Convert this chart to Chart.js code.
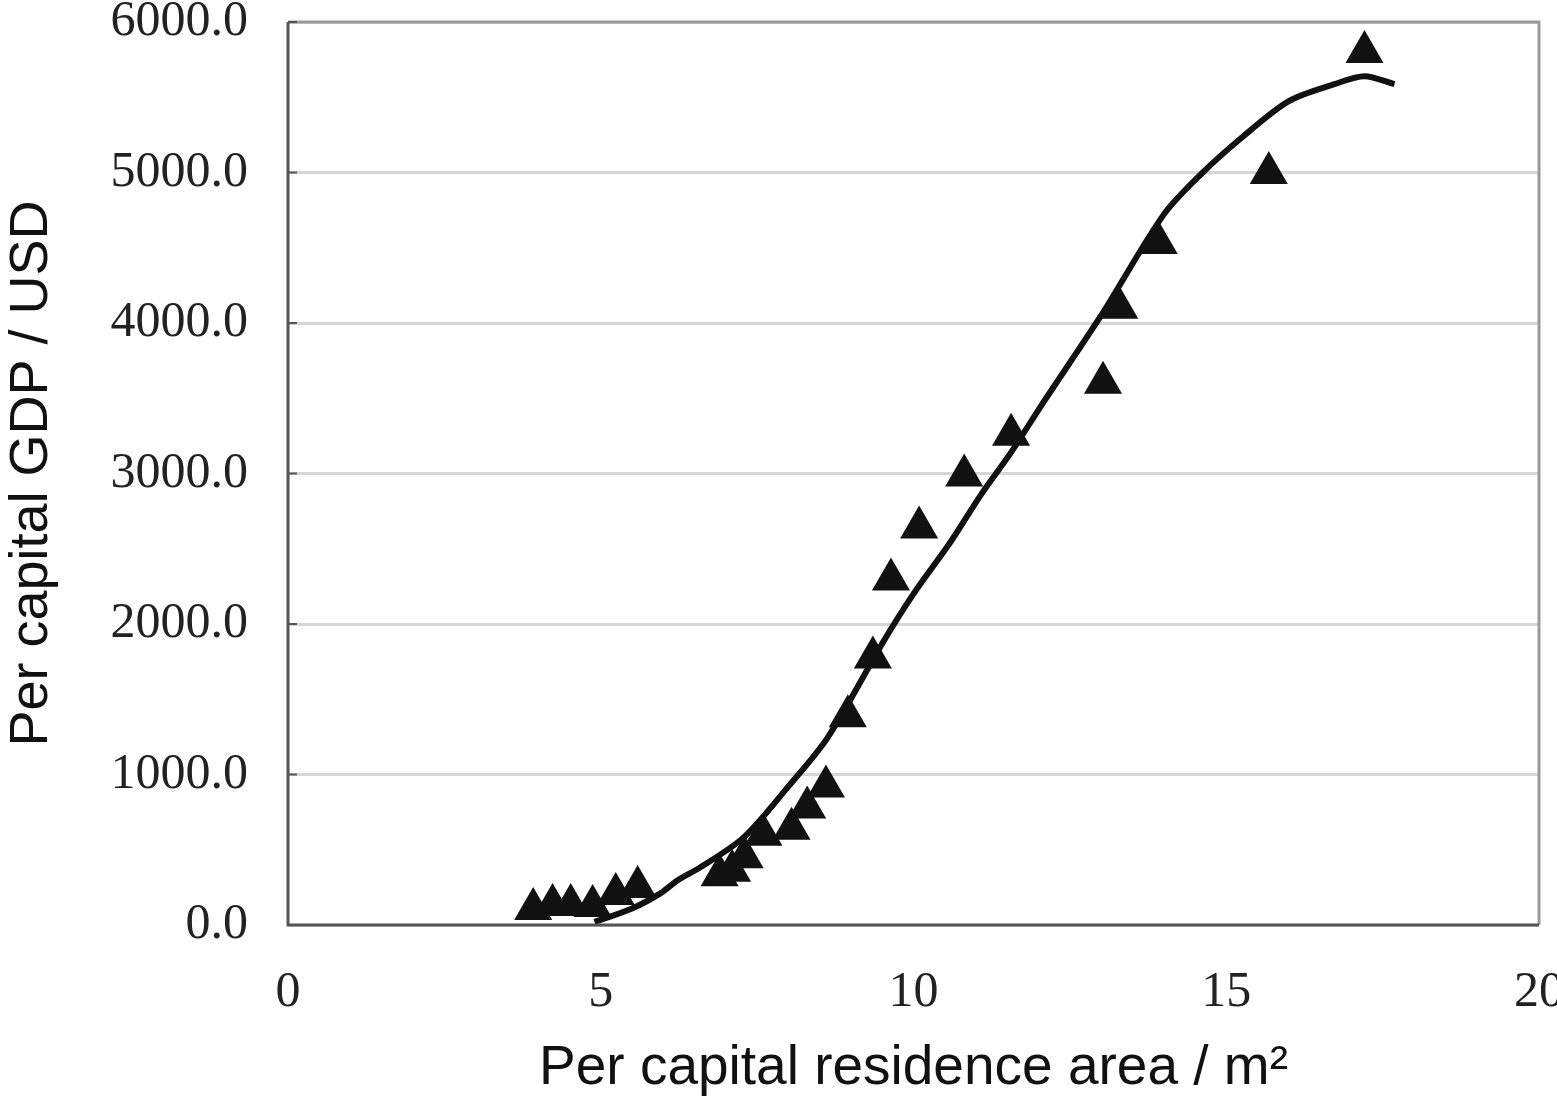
<!DOCTYPE html>
<html>
<head>
<meta charset="utf-8">
<script src="https://cdn.jsdelivr.net/npm/chart.js@4.4.0/dist/chart.umd.min.js"></script>
<style>
  html, body { margin: 0; padding: 0; background: #fff; overflow: hidden; }
  #wrap { width: 1561px; height: 1102px; }
</style>
</head>
<body>
<div id="wrap"><canvas id="grafica"></canvas></div>
<script>
// Puntos observados (triángulos)
const areaObs = [3.92, 4.23, 4.52, 4.87, 5.24, 5.59, 6.9, 7.1, 7.3, 7.6, 8.05, 8.3, 8.6,
                 8.95, 9.35, 9.64, 10.09, 10.81, 11.56, 13.03, 13.29, 13.92, 15.68, 17.21];
const gdpObs = [106, 133, 133, 126, 206, 252, 330, 360, 450, 600, 640, 780, 920,
                1387, 1778, 2296, 2641, 2986, 3258, 3603, 4101, 4532, 4997, 5800];

// Curva ajustada
const areaFit = [4.9, 5.5, 5.96, 6.23, 6.6, 7.29, 7.99, 8.63, 9.53, 10.0, 10.6, 11.08,
                 11.56, 12.04, 13.0, 14.0, 14.6, 15.24, 16.0, 16.73, 17.21, 17.69];
const gdpFit = [20, 110, 212, 298, 385, 584, 916, 1247, 1891, 2200, 2550, 2860,
                3140, 3450, 4050, 4720, 4990, 5229, 5474, 5587, 5640, 5587];

// Marcas de los ejes
const xTicks = [0, 5, 10, 15, 20];
const yTicks = [0, 1000, 2000, 3000, 4000, 5000, 6000];

const serif = '"Liberation Serif", "Times New Roman", serif';
const sans = '"Liberation Sans", Arial, sans-serif';

// Marco del área de trazado y marcas interiores del eje Y
const marco = {
    id: 'marco',
    afterDraw(chart) {
        const { ctx, chartArea: a, scales } = chart;
        ctx.save();
        ctx.lineWidth = 3;
        ctx.strokeStyle = '#9a9a9a';
        ctx.beginPath();
        ctx.moveTo(a.left, a.top);
        ctx.lineTo(a.right, a.top);
        ctx.lineTo(a.right, a.bottom);
        ctx.stroke();
        ctx.strokeStyle = '#555';
        ctx.beginPath();
        ctx.moveTo(a.left, a.top);
        ctx.lineTo(a.left, a.bottom);
        ctx.lineTo(a.right, a.bottom);
        ctx.stroke();
        ctx.lineWidth = 2;
        yTicks.forEach(v => {
            const y = scales.y.getPixelForValue(v);
            ctx.beginPath();
            ctx.moveTo(a.left, y);
            ctx.lineTo(a.left + 9, y);
            ctx.stroke();
        });
        ctx.restore();
    }
};

const ctx = document.getElementById('grafica').getContext('2d');
new Chart(ctx, {
    data: {
        datasets: [
            {
                type: 'line',
                label: 'Ajuste',
                data: areaFit.map((x, i) => ({ x: x, y: gdpFit[i] })),
                borderColor: '#111',
                borderWidth: 6,
                pointRadius: 0,
                tension: 0.3,
                fill: false,
                order: 2
            },
            {
                type: 'scatter',
                label: 'Observado',
                data: areaObs.map((x, i) => ({ x: x, y: gdpObs[i] })),
                pointStyle: 'triangle',
                pointRadius: 22,
                backgroundColor: '#111',
                borderColor: '#111',
                borderWidth: 0,
                order: 1
            }
        ]
    },
    options: {
        responsive: true,
        maintainAspectRatio: false,
        animation: false,
        clip: false,
        layout: { padding: { top: 21, right: 0, left: 0, bottom: 0 } },
        plugins: {
            legend: { display: false },
            tooltip: { enabled: false }
        },
        scales: {
            x: {
                type: 'linear',
                min: 0,
                max: 20,
                afterBuildTicks: s => { s.ticks = xTicks.map(v => ({ value: v })); },
                afterFit: s => { s.height = 177; s.paddingLeft = 0; s.paddingRight = 0; },
                grid: { display: false, drawTicks: false },
                border: { display: false },
                ticks: {
                    padding: 38,
                    color: '#222',
                    font: { family: serif, size: 50 },
                    maxRotation: 0
                },
                title: {
                    display: true,
                    text: 'Per capital residence area / m²',
                    color: '#111',
                    font: { family: sans, size: 55 },
                    padding: { top: 0, bottom: 0 }
                }
            },
            y: {
                type: 'linear',
                min: 0,
                max: 6000,
                afterBuildTicks: s => { s.ticks = yTicks.map(v => ({ value: v })); },
                afterFit: s => { s.width = 288; s.paddingTop = 0; s.paddingBottom = 0; },
                grid: { color: '#d6d6d6', lineWidth: 3, drawTicks: false },
                border: { display: false },
                ticks: {
                    padding: 40,
                    color: '#222',
                    font: { family: serif, size: 50 },
                    callback: v => v.toFixed(1)
                },
                title: {
                    display: true,
                    text: 'Per capital GDP / USD',
                    color: '#111',
                    font: { family: sans, size: 54 },
                    padding: { top: 0, bottom: 0 }
                }
            }
        }
    },
    plugins: [marco]
});
</script>
</body>
</html>
